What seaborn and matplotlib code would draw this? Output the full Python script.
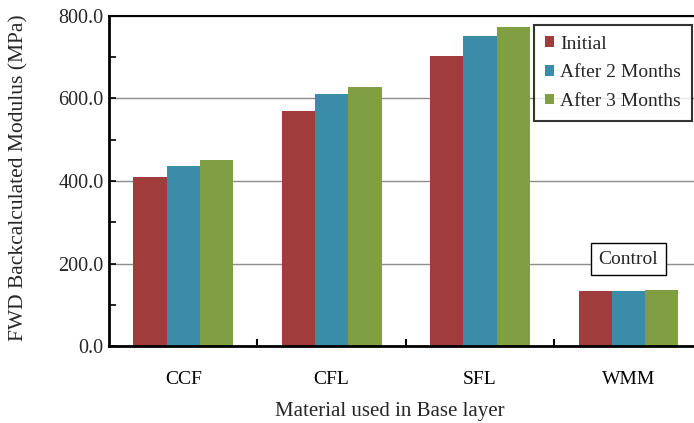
import pandas as pd
import matplotlib.pyplot as plt
import seaborn as sns
from matplotlib.ticker import MultipleLocator, FixedLocator

materials = ['CCF', 'CFL', 'SFL', 'WMM']
initial = [409, 570, 702, 135]
after_2_months = [437, 610, 751, 135]
after_3_months = [451, 628, 772, 137]
series_names = ['Initial', 'After 2 Months', 'After 3 Months']
colors = ['#A03C3B', '#3A8CA8', '#809E42']

df = pd.DataFrame({
    'material': materials * 3,
    'value': initial + after_2_months + after_3_months,
    'series': [s for s in series_names for _ in materials],
})

sns.set_style("white")
plt.rcParams['font.family'] = ['Liberation Serif', 'DejaVu Serif']

fig = plt.figure(figsize=(6.94, 4.23), dpi=100)
ax = fig.add_axes([109 / 694, 0.1813, 593.7 / 694, 0.7816])

sns.barplot(data=df, x='material', y='value', hue='series', palette=colors,
            saturation=1, width=0.673, gap=0, ax=ax, linewidth=0)

ax.set_xlim(-0.5, 3.5)
ax.set_ylim(0, 800)
ax.yaxis.set_major_locator(MultipleLocator(200))
ax.yaxis.set_minor_locator(MultipleLocator(100))
ax.set_yticklabels([f'{v:.1f}' for v in ax.get_yticks()])
ax.grid(axis='y', which='major', color='#8c8c8c', linewidth=1)
ax.set_axisbelow(True)

ax.xaxis.set_minor_locator(FixedLocator([0.5, 1.5, 2.5]))
ax.tick_params(axis='x', which='major', length=0, labelsize=14, pad=18, colors='black')
ax.tick_params(axis='x', which='minor', direction='in', length=5, width=1.5, color='black', bottom=True)
ax.tick_params(axis='y', which='both', direction='in', left=True, color='black', width=1.2,
               labelsize=14.5, pad=4)
ax.tick_params(axis='y', which='major', length=5)
ax.tick_params(axis='y', which='minor', length=5)

for side in ['left', 'bottom']:
    ax.spines[side].set_linewidth(2)
    ax.spines[side].set_color('black')
ax.spines['top'].set_linewidth(1.5)
ax.spines['top'].set_color('black')
ax.spines['right'].set_visible(False)

ax.set_xlabel('Material used in Base layer', fontsize=15)
ax.xaxis.set_label_coords((390 - 109) / 593.7, -0.168)
ax.set_ylabel('FWD Backcalculated Modulus (MPa)', fontsize=15.5)
ax.yaxis.set_label_coords(-0.136, 0.51)

leg = ax.legend(loc='upper right', bbox_to_anchor=(0.982, 0.972), borderaxespad=0,
                fontsize=14, frameon=True, fancybox=False, edgecolor='black',
                handlelength=0.45, handleheight=0.45, handletextpad=0.35,
                labelspacing=0.6, borderpad=0.55)
leg.get_frame().set_linewidth(1.5)
leg.set_title(None)

ax.text(3, 211, 'Control', ha='center', va='center', fontsize=14,
        bbox=dict(boxstyle='square,pad=0.4', facecolor='white', edgecolor='black', linewidth=1))

fig.savefig('out.png', dpi=100)
